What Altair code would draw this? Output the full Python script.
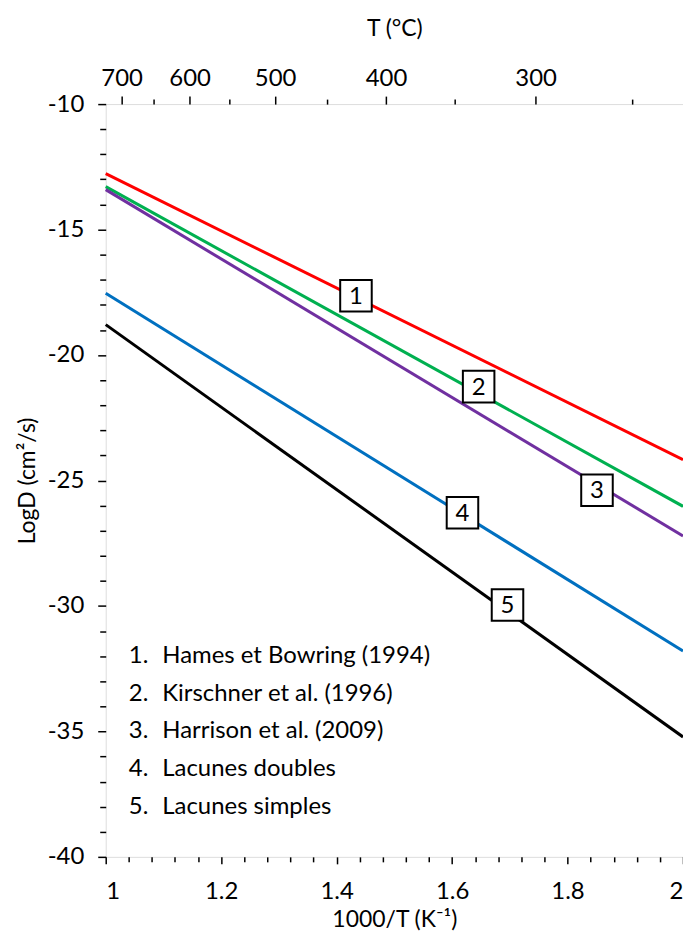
import altair as alt
import pandas as pd

# ---- data ----
series_names = ["1", "2", "3", "4", "5"]
series_colors = ["#FF0000", "#00B050", "#7030A0", "#0070C0", "#000000"]
x_ends = [1.0, 2.0]
y_start = [-12.77, -13.29, -13.41, -17.54, -18.79]
y_end = [-24.17, -26.03, -27.21, -31.80, -35.22]

label_x = [1.4335, 1.646, 1.851, 1.618, 1.696]
label_y = [-17.64, -21.26, -25.39, -26.29, -29.96]

legend_nums = ["1.", "2.", "3.", "4.", "5."]
legend_names = ["Hames et Bowring (1994)", "Kirschner et al. (1996)",
                "Harrison et al. (2009)", "Lacunes doubles", "Lacunes simples"]
legend_rows_y = [-32.0, -33.5, -35.0, -36.5, -38.0]
legend_num_x = 1.040
legend_name_x = 1.098

x_major = [1.0, 1.2, 1.4, 1.6, 1.8, 2.0]
x_minor = [round(1 + 0.04 * i, 2) for i in range(26) if i % 5 != 0]
y_major = [-10, -15, -20, -25, -30, -35, -40]
y_minor = [v for v in range(-39, -10) if v % 5 != 0]
t_major = [700, 600, 500, 400, 300]
t_minor = [650, 550, 450, 350, 250]

FONT = "Lato"
FS = 24

rows = []
for n, a, b in zip(series_names, y_start, y_end):
    rows.append({"series": n, "x": x_ends[0], "y": a})
    rows.append({"series": n, "x": x_ends[1], "y": b})
df = pd.DataFrame(rows)

lab = pd.DataFrame({"n": series_names, "x": label_x, "y": label_y})
leg = pd.DataFrame({"num": legend_nums, "name": legend_names, "y": legend_rows_y,
                    "xn": [legend_num_x] * 5, "xt": [legend_name_x] * 5})


def xs():
    return alt.Scale(domain=[1, 2], nice=False, zero=False)


def ys():
    return alt.Scale(domain=[-40, -10], nice=False, zero=False)


common_axis = dict(domain=False, grid=False, tickColor="black", tickWidth=1.5,
                   labelColor="black", labelFont=FONT, labelFontSize=FS,
                   titleFont=FONT, titleFontSize=23, titleColor="black",
                   titleFontWeight="normal")

lines = alt.Chart(df).mark_line(strokeWidth=3).encode(
    x=alt.X("x:Q", scale=xs(), axis=alt.Axis(
        orient="bottom", values=x_major, labelExpr="format(datum.value, '~g')",
        tickSize=7, labelPadding=16, title="1000/T (K⁻¹)", titlePadding=5,
        **common_axis)),
    y=alt.Y("y:Q", scale=ys(), axis=alt.Axis(
        orient="left", values=y_major, tickSize=8, labelPadding=14,
        labelExpr="'' + datum.value",
        title="LogD (cm²/s)", titlePadding=8, **common_axis)),
    color=alt.Color("series:N", scale=alt.Scale(domain=series_names, range=series_colors),
                    legend=None),
)

ghost = dict(opacity=0)

x_minor_layer = alt.Chart(df).mark_point(**ghost).encode(
    x=alt.X("x:Q", scale=xs(), axis=alt.Axis(orient="bottom", values=x_minor, labels=False,
                                             tickSize=5, title=None, **common_axis)),
    y=alt.Y("y:Q", scale=ys(), axis=alt.Axis(orient="left", values=y_minor, labels=False,
                                             tickSize=6, title=None, **common_axis)),
)

top_major = alt.Chart(df).mark_point(**ghost).encode(
    x=alt.X("x:Q", scale=xs(), axis=alt.Axis(
        orient="top", values=[1000 / (t + 273.15) for t in t_major],
        labelExpr="format(1000 / datum.value - 273.15, '.0f')",
        tickSize=8, labelPadding=6, title="T (°C)", titlePadding=26, **common_axis)),
    y=alt.Y("y:Q", scale=ys(), axis=None),
)

top_minor = alt.Chart(df).mark_point(**ghost).encode(
    x=alt.X("x:Q", scale=xs(), axis=alt.Axis(
        orient="top", values=[1000 / (t + 273.15) for t in t_minor], labels=False,
        tickSize=5, title=None, **common_axis)),
    y=alt.Y("y:Q", scale=ys(), axis=None),
)

boxes = alt.Chart(lab).mark_point(shape="square", filled=True, fill="white",
                                  stroke="black", strokeWidth=2, size=1000, opacity=1).encode(
    x=alt.X("x:Q", scale=xs(), axis=None),
    y=alt.Y("y:Q", scale=ys(), axis=None),
)

box_text = alt.Chart(lab).mark_text(font=FONT, fontSize=FS, color="black",
                                    baseline="middle", align="center", dy=1).encode(
    x=alt.X("x:Q", scale=xs(), axis=None),
    y=alt.Y("y:Q", scale=ys(), axis=None),
    text="n:N",
)

leg_num = alt.Chart(leg).mark_text(font=FONT, fontSize=FS, color="black",
                                   baseline="middle", align="left").encode(
    x=alt.X("xn:Q", scale=xs(), axis=None),
    y=alt.Y("y:Q", scale=ys(), axis=None),
    text="num:N",
)

leg_name = alt.Chart(leg).mark_text(font=FONT, fontSize=FS, color="black",
                                    baseline="middle", align="left").encode(
    x=alt.X("xt:Q", scale=xs(), axis=None),
    y=alt.Y("y:Q", scale=ys(), axis=None),
    text="name:N",
)

chart = alt.layer(
    lines, x_minor_layer, top_major, top_minor, boxes, box_text, leg_num, leg_name
).resolve_scale(x="independent", y="independent").properties(
    width=579, height=755,
    autosize=alt.AutoSizeParams(type="none"),
    padding={"left": 98, "top": 95, "right": 0, "bottom": 78},
).configure_view(stroke="black", strokeWidth=1.5).configure(background="white")

chart.save("out.html", embed_options={"renderer": "svg", "actions": False})
